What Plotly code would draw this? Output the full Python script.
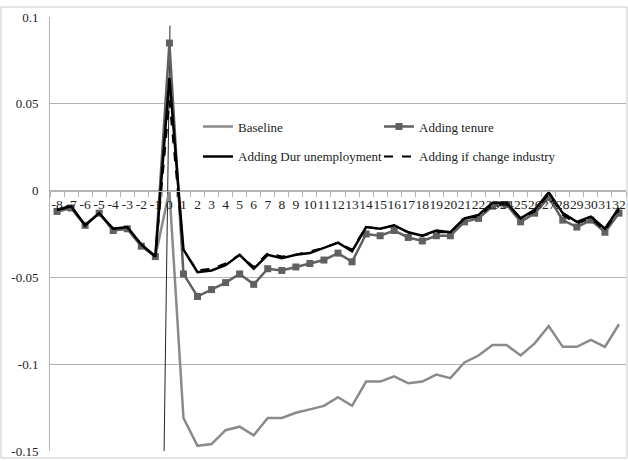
import plotly.graph_objects as go

periods = list(range(-8, 33))
tick_labels = [str(p) for p in periods]

baseline = [-0.012, -0.010, -0.020, -0.013, -0.023, -0.022, -0.032, -0.038,
            0.000, -0.131, -0.147, -0.146, -0.138, -0.136, -0.141, -0.131,
            -0.131, -0.128, -0.126, -0.124, -0.119, -0.124, -0.110, -0.110,
            -0.107, -0.111, -0.110, -0.106, -0.108, -0.099, -0.095, -0.089,
            -0.089, -0.095, -0.088, -0.078, -0.090, -0.090, -0.086, -0.090, -0.077]

tenure = [-0.012, -0.010, -0.020, -0.013, -0.023, -0.022, -0.032, -0.038,
          0.085, -0.048, -0.061, -0.057, -0.053, -0.048, -0.054, -0.045,
          -0.046, -0.044, -0.042, -0.040, -0.036, -0.041, -0.025, -0.026,
          -0.023, -0.027, -0.029, -0.026, -0.026, -0.018, -0.016, -0.009,
          -0.008, -0.018, -0.013, -0.004, -0.017, -0.021, -0.017, -0.024, -0.013]

dur_unemp = [-0.011, -0.009, -0.020, -0.013, -0.022, -0.021, -0.031, -0.038,
             0.065, -0.034, -0.047, -0.046, -0.043, -0.037, -0.045, -0.037,
             -0.039, -0.037, -0.036, -0.033, -0.030, -0.035, -0.021, -0.022,
             -0.020, -0.024, -0.026, -0.023, -0.024, -0.016, -0.014, -0.007,
             -0.007, -0.016, -0.011, -0.001, -0.013, -0.018, -0.015, -0.022, -0.010]

change_ind = [-0.011, -0.009, -0.020, -0.013, -0.022, -0.021, -0.031, -0.038,
              0.052, -0.035, -0.046, -0.045, -0.042, -0.037, -0.044, -0.036,
              -0.038, -0.037, -0.035, -0.033, -0.030, -0.034, -0.021, -0.022,
              -0.020, -0.024, -0.026, -0.024, -0.024, -0.016, -0.015, -0.008,
              -0.008, -0.016, -0.012, -0.002, -0.014, -0.019, -0.016, -0.023, -0.011]

event_line_x = [-0.38, 0.04]
event_line_y = [-0.15, 0.095]

FONT = "Liberation Serif"

fig = go.Figure()
fig.add_trace(go.Scatter(x=event_line_x, y=event_line_y, mode="lines",
                         line=dict(color="#222222", width=1), showlegend=False,
                         hoverinfo="skip"))
fig.add_trace(go.Scatter(x=periods, y=baseline, mode="lines", name="Baseline",
                         line=dict(color="#8a8a8a", width=2.5), legend="legend"))
fig.add_trace(go.Scatter(x=periods, y=tenure, mode="lines+markers", name="Adding tenure",
                         line=dict(color="#606060", width=2.5),
                         marker=dict(symbol="square", size=7, color="#606060"),
                         legend="legend"))
fig.add_trace(go.Scatter(x=periods, y=dur_unemp, mode="lines", name="Adding Dur unemployment",
                         line=dict(color="#000000", width=2.5), legend="legend2"))
fig.add_trace(go.Scatter(x=periods, y=change_ind, mode="lines", name="Adding if change industry",
                         line=dict(color="#000000", width=2, dash="dash"), legend="legend2"))

W, H = 628, 461
L, R, T, B = 50, 2, 17, 8
pw, ph = W - L - R, H - T - B

def px(x):
    return (x - L) / pw

def py(y):
    return (H - B - y) / ph

grid = "#b4b4b4"
fig.update_layout(
    width=W, height=H,
    margin=dict(l=L, r=R, t=T, b=B),
    paper_bgcolor="white", plot_bgcolor="white",
    font=dict(family=FONT, size=13, color="#222222"),
    xaxis=dict(range=[-8.5, 32.5], tickmode="array", tickvals=periods, ticktext=tick_labels,
               anchor="free", position=0.6, showline=True, linecolor=grid, linewidth=1,
               ticks="outside", ticklen=1, tickcolor="rgba(0,0,0,0)", tickangle=0,
               showgrid=False, zeroline=False,
               minor=dict(tickvals=[p - 0.5 for p in periods] + [32.5], ticks="outside",
                          ticklen=5, tickcolor=grid, showgrid=False),
               tickfont=dict(family=FONT, size=13.5, color="#222222")),
    yaxis=dict(range=[-0.15, 0.1], tickmode="array",
               tickvals=[0.1, 0.05, 0, -0.05, -0.1, -0.15],
               ticktext=["0.1", "0.05", "0", "-0.05", "-0.1", "-0.15"],
               showgrid=True, gridcolor=grid, gridwidth=1, zeroline=False,
               showline=True, linecolor=grid, linewidth=1,
               ticks="outside", ticklen=8, tickcolor="rgba(0,0,0,0)",
               tickfont=dict(family=FONT, size=13, color="#222222")),
    legend=dict(orientation="h", x=px(198), y=py(112), xanchor="left", yanchor="top",
                entrywidth=136, entrywidthmode="pixels", bgcolor="rgba(0,0,0,0)",
                font=dict(family=FONT, size=13, color="#222222")),
    legend2=dict(orientation="h", x=px(198), y=py(142), xanchor="left", yanchor="top",
                 entrywidth=136, entrywidthmode="pixels", bgcolor="rgba(0,0,0,0)",
                 font=dict(family=FONT, size=13, color="#222222")),
    shapes=[dict(type="rect", xref="paper", yref="paper",
                 x0=px(1), x1=px(627), y0=py(460), y1=py(7),
                 line=dict(color="#c8c8c8", width=1), fillcolor="rgba(0,0,0,0)", layer="below")],
)

fig.write_html("out.html", config={"displayModeBar": False},
               post_script="document.body.style.margin='0px';")
